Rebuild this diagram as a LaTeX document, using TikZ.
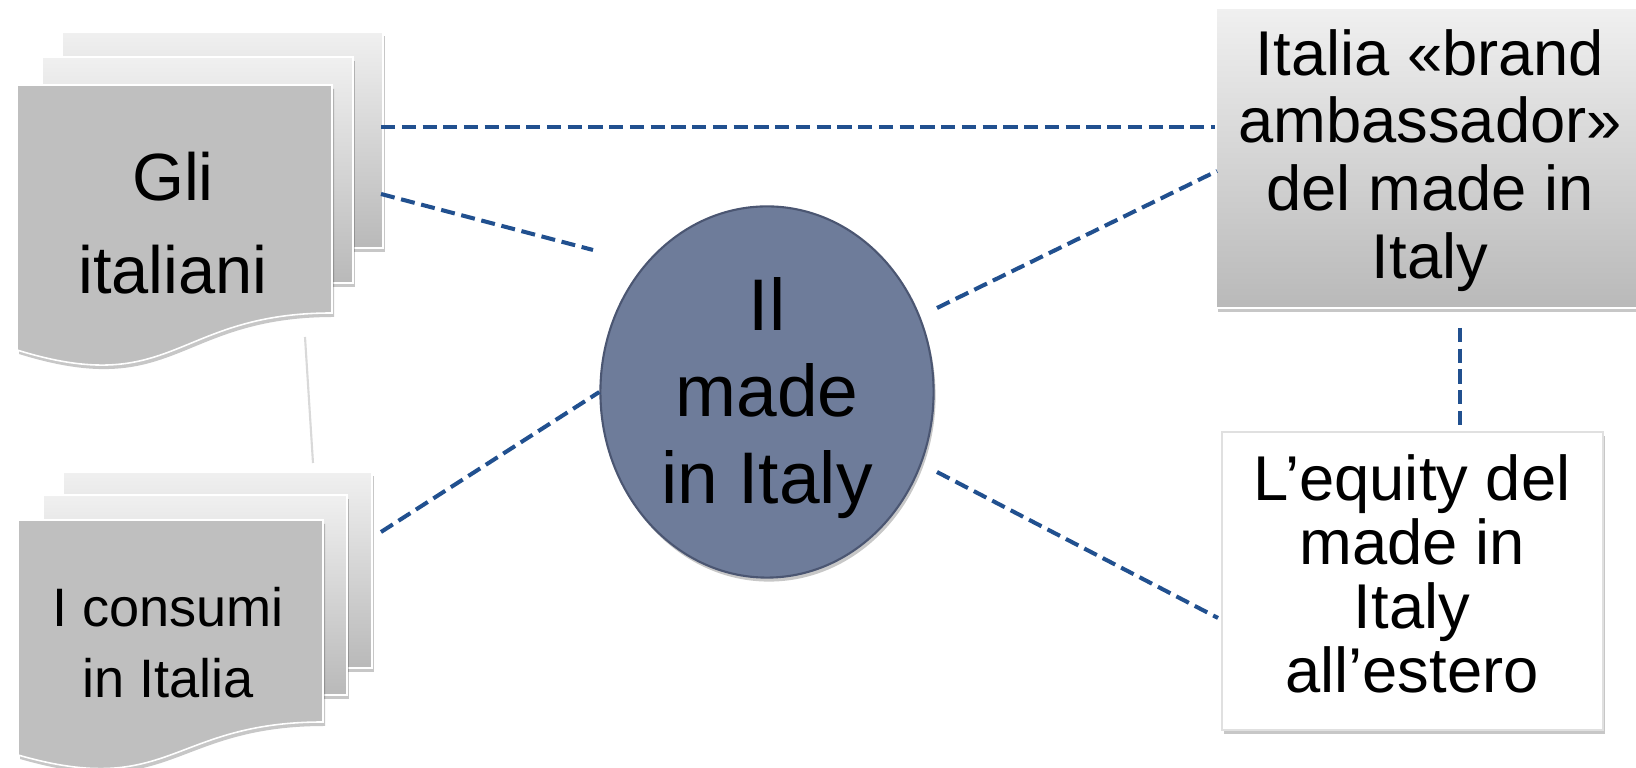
\documentclass[tikz,border=0pt]{standalone}
\usepackage{fontspec}
\setmainfont{Liberation Sans}
\usetikzlibrary{shapes.geometric,shadows,calc}
\definecolor{dashblue}{HTML}{21508F}
\definecolor{sheetfront}{HTML}{BFBFBF}
\definecolor{sheettop}{HTML}{F0F0F0}
\definecolor{sheetbot}{HTML}{B9B9B9}
\definecolor{circfill}{HTML}{6E7C9A}
\definecolor{circline}{HTML}{4B5672}
\definecolor{linkgrey}{HTML}{D9D9D9}
\begin{document}
\begin{tikzpicture}[x=0.01cm,y=-0.01cm,
  conn/.style={draw=dashblue, line width=1.15pt, dash pattern=on 4pt off 1.9pt},
  softshadow/.style={drop shadow={shadow xshift=0.02cm, shadow yshift=-0.04cm, opacity=0.22, fill=black}},
  backsheet/.style={top color=sheettop, bottom color=sheetbot, draw=white, line width=0.45pt, softshadow},
  frontsheet/.style={fill=sheetfront, draw=white, line width=0.45pt, softshadow},
  txt/.style={align=center, inner sep=0pt, text=black}]
\useasboundingbox (0,0) rectangle (1636,768);
\fill[white] (0,0) rectangle (1636,768);

% ---- top-left multidocument
\path[backsheet] (62,32) rectangle (383,248);
\path[backsheet] (42,57) rectangle (353,283);
\path[frontsheet] (17,85) -- (332,85) -- (332,313) .. controls (174.5,313) and (174.5,399) .. (17,350) -- cycle;
\node[txt, font=\fontsize{19}{26.5}\selectfont] (gli) at (173,223.5) {Gli\\italiani};

% ---- bottom-left multidocument
\path[backsheet] (63,472) rectangle (372,668);
\path[backsheet] (43,495) rectangle (347,695);
\path[frontsheet] (18,520) -- (323,520) -- (323,722) .. controls (170.5,722) and (170.5,799) .. (18,755) -- cycle;
\node[txt, font=\fontsize{15.4}{20.2}\selectfont] (cons) at (168,643) {I consumi\\in Italia};

% ---- centre ellipse
\node[ellipse, minimum width=3.33cm, minimum height=3.71cm, inner sep=0pt,
      fill=circfill, draw=circline, line width=0.6pt, softshadow] (mc) at (767,392) {};
\node[txt, font=\fontsize{20.8}{24.5}\selectfont] (mctext) at (767,398) {Il\\made\\in Italy};

% ---- right boxes
\node[rectangle, minimum width=4.24cm, minimum height=3.0cm, inner sep=0pt,
      top color=sheettop, bottom color=sheetbot, draw=white, line width=0.5pt, softshadow] (brand) at (1428,158) {};
\node[txt, font=\fontsize{18}{19.3}\selectfont] (brandtext) at (1430,160.5) {Italia «brand\\ambassador»\\del made in\\Italy};

\node[rectangle, minimum width=3.81cm, minimum height=2.98cm, inner sep=0pt,
      fill=white, draw=black!12, line width=0.4pt, softshadow] (equity) at (1412.5,581) {};
\node[txt, font=\fontsize{18}{18.2}\selectfont] (equitytext) at (1412,573.5) {L’equity del\\made in\\Italy\\all’estero};

% ---- connector end points
\coordinate (l1a) at (381,127);
\coordinate (l2a) at (381,194);
\coordinate (l2b) at (593,250);
\coordinate (l3a) at (381,532);
\coordinate (l4a) at (937,308);
\coordinate (l4b) at (1217,171);
\coordinate (l5a) at (937,472);
\coordinate (l5b) at (1218,618);
\coordinate (v1) at (1460,328);
\coordinate (v2) at (1460,428);
\coordinate (g1) at (305,337);
\coordinate (g2) at (313,463);

% ---- connectors
\draw[linkgrey, line width=0.6pt] (g1) -- (g2);
\draw[conn] (l1a) -- (brand.west |- l1a);
\draw[conn] (l2a) -- (l2b);
\draw[conn] (l3a) -- (mc.west);
\draw[conn] (l4a) -- (l4b);
\draw[conn] (l5a) -- (l5b);
\draw[conn] (v1) -- (v2);
\end{tikzpicture}
\end{document}
